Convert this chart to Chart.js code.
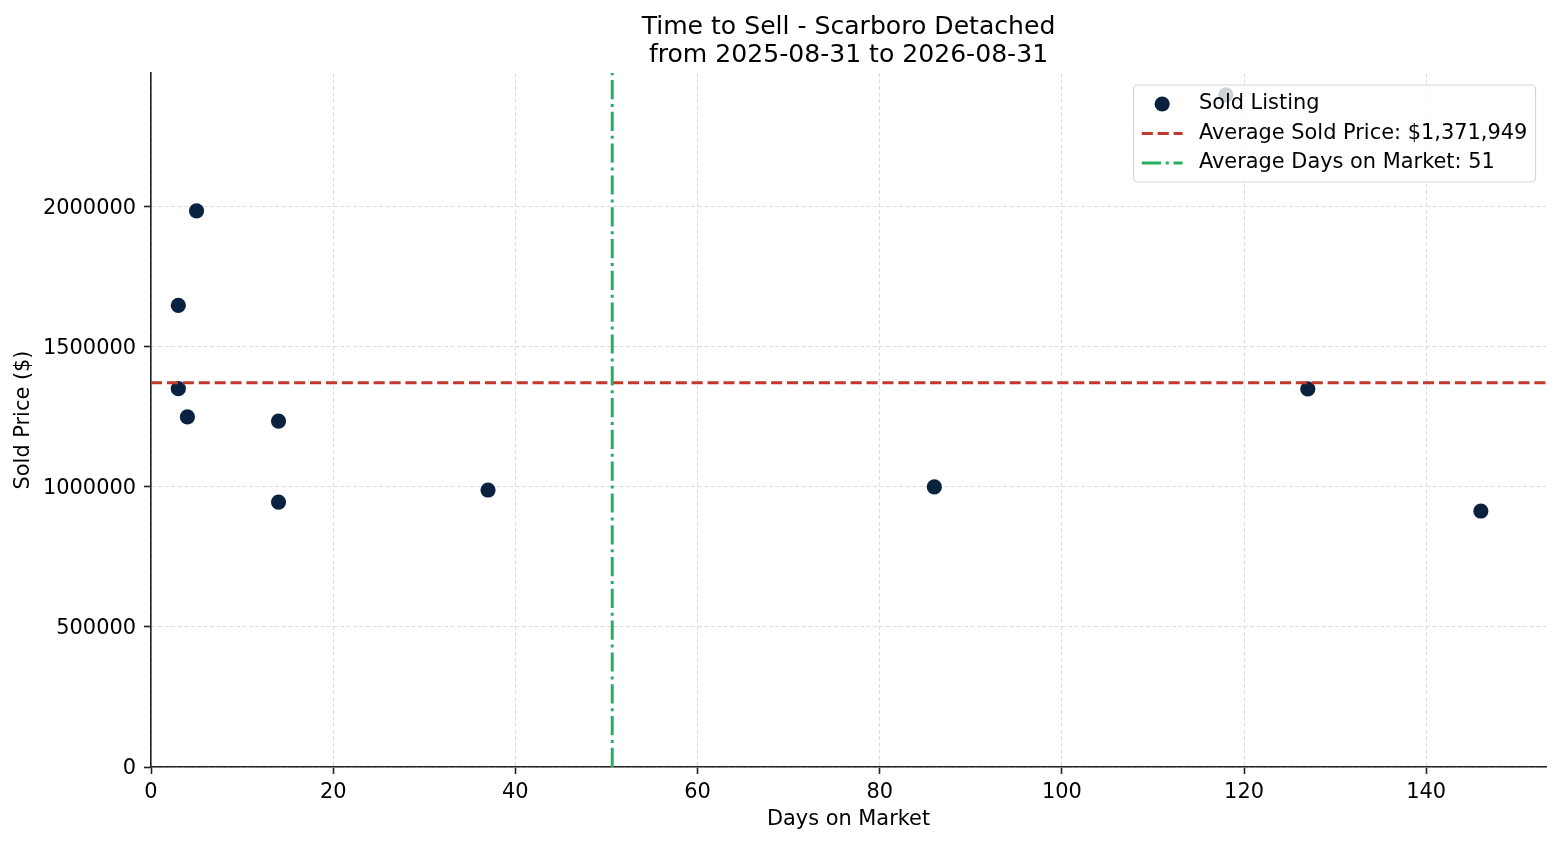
<!DOCTYPE html>
<html>
<head>
<meta charset="utf-8">
<title>Time to Sell - Scarboro Detached</title>
<script src="https://cdn.jsdelivr.net/npm/chart.js@4.4.1/dist/chart.umd.min.js"></script>
<style>
  html, body { margin: 0; padding: 0; background: #fff; }
  #wrap { width: 1560px; height: 845px; }
</style>
</head>
<body>
<div id="wrap"><canvas id="chart" width="1560" height="845"></canvas></div>
<script>
// ---- DATA ----
const daysOnMarket = [3, 5, 3, 4, 14, 14, 37, 86, 118, 127, 146];
const soldPrices = [1648000, 1986000, 1351000, 1250000, 1235000, 946000, 989000, 1000000, 2400000, 1350000, 914000];
const avgSoldPrice = 1371949;
const avgDays = daysOnMarket.reduce((a, b) => a + b, 0) / daysOnMarket.length;
const xTickValues = [0, 20, 40, 60, 80, 100, 120, 140];
const yTickValues = [0, 500000, 1000000, 1500000, 2000000];
const xRange = [0, 153.15];
const yRange = [0, 2478000];
const titleLines = ['Time to Sell - Scarboro Detached', 'from 2025-08-31 to 2026-08-31'];

const FONT = '"DejaVu Sans", sans-serif';
const FS = 20.9;

// ---- LEGEND (matplotlib-style box, top right of the plot) ----
const legendPanel = {
    id: 'legendPanel',
    afterDraw(chart) {
        const { ctx, chartArea } = chart;
        const sets = chart.data.datasets;
        ctx.save();
        ctx.font = `${FS}px ${FONT}`;
        const textW = Math.max(...sets.map(d => ctx.measureText(d.label).width));
        const pad = 8.2, handle = 40.8, gap = 16.3;
        const w = pad + handle + gap + textW + pad;
        const h = 97;
        const right = chartArea.right - 10.5;
        const top = chartArea.top + 12;
        const left = right - w;

        ctx.beginPath();
        ctx.roundRect(left, top, w, h, 4);
        ctx.fillStyle = 'rgba(255,255,255,0.8)';
        ctx.fill();
        ctx.strokeStyle = 'rgba(204,204,204,0.8)';
        ctx.lineWidth = 1.2;
        ctx.stroke();

        sets.forEach((d, i) => {
            const cy = top + 19 + i * 29.5;
            const hx = left + pad;
            if (d.showLine) {
                ctx.beginPath();
                ctx.setLineDash(d.borderDash || []);
                ctx.strokeStyle = d.borderColor;
                ctx.lineWidth = d.borderWidth;
                ctx.moveTo(hx, cy);
                ctx.lineTo(hx + handle, cy);
                ctx.stroke();
                ctx.setLineDash([]);
            } else {
                ctx.beginPath();
                ctx.arc(hx + handle / 2, cy, d.pointRadius, 0, Math.PI * 2);
                ctx.fillStyle = d.backgroundColor;
                ctx.fill();
            }
            ctx.fillStyle = '#000';
            ctx.textBaseline = 'middle';
            ctx.textAlign = 'left';
            ctx.fillText(d.label, hx + handle + gap, cy);
        });
        ctx.restore();
    }
};

const ctxChart = document.getElementById('chart').getContext('2d');

new Chart(ctxChart, {
    type: 'scatter',
    data: {
        datasets: [
            {
                label: 'Sold Listing',
                data: daysOnMarket.map((d, i) => ({ x: d, y: soldPrices[i] })),
                backgroundColor: '#0a2240',
                pointRadius: 7.6,
                pointHoverRadius: 7.6,
                borderWidth: 0,
                order: 3
            },
            {
                label: 'Average Sold Price: $' + avgSoldPrice.toLocaleString('en-US'),
                data: [{ x: xRange[0], y: avgSoldPrice }, { x: xRange[1], y: avgSoldPrice }],
                showLine: true,
                borderColor: '#c0392b',
                borderWidth: 3,
                borderDash: [11.1, 4.8],
                pointRadius: 0,
                order: 2
            },
            {
                label: 'Average Days on Market: ' + Math.round(avgDays),
                data: [{ x: avgDays, y: yRange[0] }, { x: avgDays, y: yRange[1] }],
                showLine: true,
                borderColor: '#27ae60',
                borderWidth: 3,
                borderDash: [19.2, 4.8, 3, 4.8],
                pointRadius: 0,
                order: 1
            }
        ]
    },
    options: {
        responsive: false,
        animation: false,
        devicePixelRatio: 1,
        layout: { padding: { top: 0, right: 14, bottom: 0, left: 0 } },
        plugins: {
            legend: { display: false },
            tooltip: { enabled: false },
            title: {
                display: true,
                text: titleLines,
                fullSize: false,
                color: '#000',
                font: { family: FONT, size: 25.1, weight: 'normal', lineHeight: 28 / 25.1 },
                padding: { top: 13.5, bottom: 3.5 }
            }
        },
        scales: {
            x: {
                type: 'linear',
                min: xRange[0],
                max: xRange[1],
                afterBuildTicks: s => { s.ticks = xTickValues.map(v => ({ value: v })); },
                afterFit: s => { s.height = 78; },
                ticks: {
                    color: '#000',
                    font: { family: FONT, size: FS },
                    padding: 6,
                    maxRotation: 0,
                    callback: v => String(v)
                },
                grid: {
                    color: '#dcdcdc',
                    lineWidth: 1,
                    tickColor: '#222',
                    tickLength: 7,
                    tickWidth: 1.6,
                    tickBorderDash: []
                },
                border: { display: true, color: '#222', width: 1.6, dash: [4, 2.5] },
                title: {
                    display: true,
                    text: 'Days on Market',
                    color: '#000',
                    font: { family: FONT, size: FS, lineHeight: 1.2 },
                    padding: { top: 0, bottom: 12.4 }
                }
            },
            y: {
                type: 'linear',
                min: yRange[0],
                max: yRange[1],
                afterBuildTicks: s => { s.ticks = yTickValues.map(v => ({ value: v })); },
                afterFit: s => { s.width = 151; },
                ticks: {
                    color: '#000',
                    font: { family: FONT, size: FS },
                    padding: 8,
                    labelOffset: 2,
                    callback: v => String(v)
                },
                grid: {
                    color: '#dcdcdc',
                    lineWidth: 1,
                    tickColor: '#222',
                    tickLength: 7,
                    tickWidth: 1.6,
                    tickBorderDash: []
                },
                border: { display: true, color: '#222', width: 1.6, dash: [4, 2.5] },
                title: {
                    display: true,
                    text: 'Sold Price ($)',
                    color: '#000',
                    font: { family: FONT, size: FS, lineHeight: 1.2 },
                    padding: { top: 11.5, bottom: 0 }
                }
            }
        }
    },
    plugins: [legendPanel]
});
</script>
</body>
</html>
